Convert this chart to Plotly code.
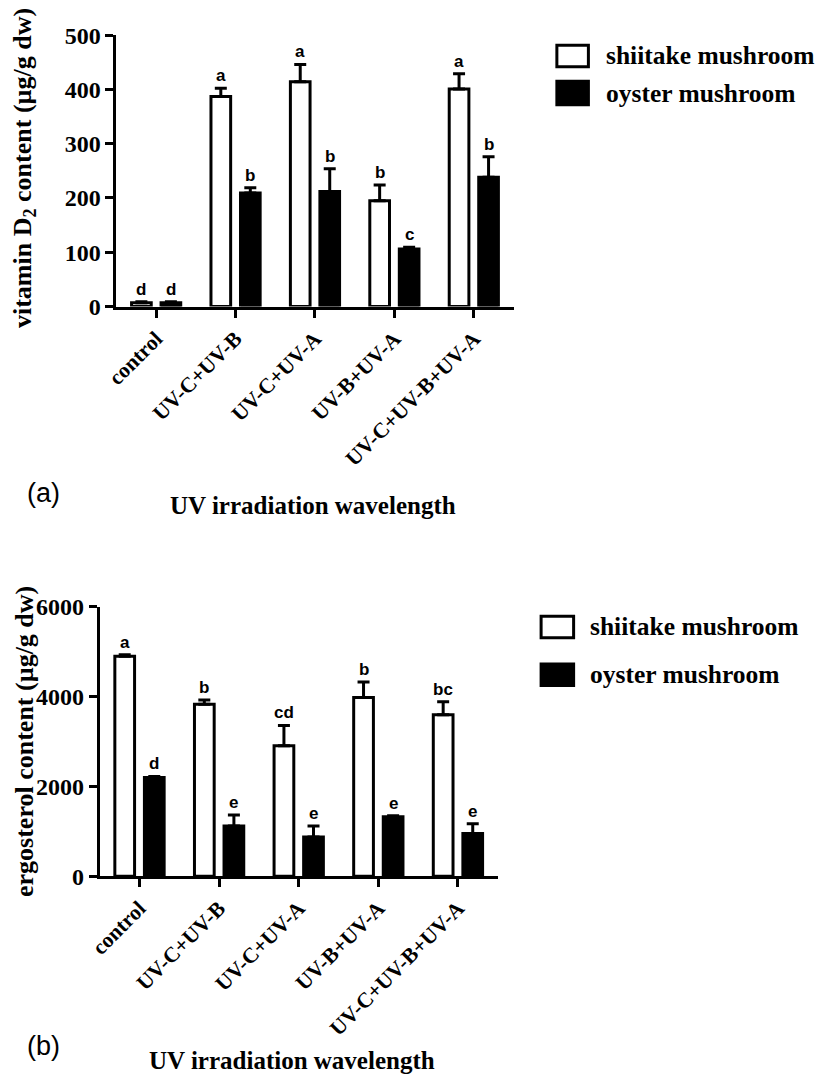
import plotly.graph_objects as go

# ---------------- data ----------------
categories = ["control", "UV-C+UV-B", "UV-C+UV-A", "UV-B+UV-A", "UV-C+UV-B+UV-A"]
series_names = ["shiitake mushroom", "oyster mushroom"]
series_fill = ["white", "black"]

vitd2_shiitake = [7, 387, 414, 195, 401]
vitd2_shiitake_err = [2, 15, 32, 29, 28]
vitd2_oyster = [7, 209, 212, 106, 238]
vitd2_oyster_err = [2, 10, 42, 3, 38]
vitd2_shiitake_letters = ["d", "a", "a", "b", "a"]
vitd2_oyster_letters = ["d", "b", "b", "c", "b"]
vitd2_ticks = [0, 100, 200, 300, 400, 500]

erg_shiitake = [4900, 3826, 2906, 3978, 3594]
erg_shiitake_err = [30, 95, 450, 348, 290]
erg_oyster = [2200, 1116, 870, 1326, 949]
erg_oyster_err = [20, 246, 246, 20, 218]
erg_shiitake_letters = ["a", "b", "cd", "b", "bc"]
erg_oyster_letters = ["d", "e", "e", "e", "e"]
erg_ticks = [0, 2000, 4000, 6000]

# ---------------- style ----------------
W, H = 816, 1088
SERIF = "Liberation Serif"
SANS = "Liberation Sans"
BAR_GAP = 0.257
GROUP_GAP = 0.333


def px(x):
    return x / W


def py(y):
    return 1 - y / H


xidx = list(range(len(categories)))
fig = go.Figure()

panels = [
    dict(xa="x", ya="y",
         values=[vitd2_shiitake, vitd2_oyster],
         errs=[vitd2_shiitake_err, vitd2_oyster_err],
         letters=[vitd2_shiitake_letters, vitd2_oyster_letters]),
    dict(xa="x2", ya="y2",
         values=[erg_shiitake, erg_oyster],
         errs=[erg_shiitake_err, erg_oyster_err],
         letters=[erg_shiitake_letters, erg_oyster_letters]),
]

annotations = []
slot = (1 - BAR_GAP) / 2
for p in panels:
    for s in range(2):
        fig.add_trace(go.Bar(
            x=xidx, y=p["values"][s], name=series_names[s],
            xaxis=p["xa"], yaxis=p["ya"], showlegend=False,
            marker=dict(color=series_fill[s], line=dict(color="black", width=3)),
            error_y=dict(type="data", array=p["errs"][s],
                         arrayminus=[0] * len(categories), symmetric=False,
                         color="black", thickness=3, width=6),
        ))
        off = (s - 0.5) * slot
        for i, (v, e, lt) in enumerate(zip(p["values"][s], p["errs"][s], p["letters"][s])):
            annotations.append(dict(
                x=i + off, y=v + e, xref=p["xa"], yref=p["ya"], text=lt,
                showarrow=False, yanchor="bottom", xanchor="center", yshift=1,
                font=dict(family=SANS, size=17, color="black", weight="bold")))

axis_common = dict(showline=True, linewidth=3, linecolor="black", ticks="outside",
                   ticklen=8, tickwidth=3, tickcolor="black", showgrid=False,
                   zeroline=False, fixedrange=True)
ytickfont = dict(family=SERIF, size=24, color="black", weight="bold")
xtickfont = dict(family=SERIF, size=21.5, color="black", weight="bold")

fig.update_layout(
    width=W, height=H, margin=dict(l=0, r=0, t=0, b=0),
    paper_bgcolor="white", plot_bgcolor="white",
    barmode="group", bargap=BAR_GAP, bargroupgap=GROUP_GAP,
    showlegend=False,
    xaxis=dict(domain=[px(106), px(509)], range=[-0.5, 4.5], anchor="y",
               tickvals=xidx, ticktext=categories, tickangle=-45,
               tickfont=xtickfont, **axis_common),
    yaxis=dict(domain=[py(300.7), py(22.7)], range=[0, 500], anchor="x",
               tickvals=vitd2_ticks, tickfont=ytickfont, **axis_common),
    xaxis2=dict(domain=[px(89), px(493)], range=[-0.5, 4.5], anchor="y2",
                tickvals=xidx, ticktext=categories, tickangle=-45,
                tickfont=xtickfont, **axis_common),
    yaxis2=dict(domain=[py(884.3), py(608.3)], range=[0, 6000], anchor="x2",
                tickvals=erg_ticks, tickfont=ytickfont, **axis_common),
)

texts = [
    (12, 159, "vitamin D<sub>2</sub> content (µg/g dw)", -90, 26),
    (305, 505, "UV irradiation wavelength", 0, 25),
    (12, 746, "ergosterol content (µg/g dw)", -90, 26),
    (284, 1073, "UV irradiation wavelength", 0, 25),
]
for x, y, t, ang, sz in texts:
    annotations.append(dict(x=px(x), y=py(y), xref="paper", yref="paper", text=t,
                            textangle=ang, showarrow=False, xanchor="center",
                            yanchor="middle",
                            font=dict(family=SERIF, size=sz, color="black",
                                      weight="bold")))

for x, y, t in [(13, 492, "(a)"), (13, 1058, "(b)")]:
    annotations.append(dict(x=px(x), y=py(y), xref="paper", yref="paper", text=t,
                            showarrow=False, xanchor="left", yanchor="middle",
                            font=dict(family=SANS, size=27, color="black")))

# custom legends (one per panel)
shapes = []
legend_boxes = [
    dict(x0=553, x1=585, text_x=601, rows=[(33, 55), (70, 94)]),
    dict(x0=537, x1=570, text_x=585, rows=[(618, 640), (667, 689)]),
]
for lg in legend_boxes:
    for s, (y0, y1) in enumerate(lg["rows"]):
        shapes.append(dict(type="rect", xref="paper", yref="paper",
                           x0=px(lg["x0"]), x1=px(lg["x1"]), y0=py(y1), y1=py(y0),
                           fillcolor=series_fill[s], line=dict(color="black", width=3)))
        annotations.append(dict(x=px(lg["text_x"]), y=py((y0 + y1) / 2), xref="paper",
                                yref="paper", text=series_names[s], showarrow=False,
                                xanchor="left", yanchor="middle",
                                font=dict(family=SERIF, size=25.5, color="black",
                                          weight="bold")))

fig.update_layout(annotations=annotations, shapes=shapes)

fig.write_html("out.html", config={"displayModeBar": False},
               post_script="document.body.style.margin='0';")
